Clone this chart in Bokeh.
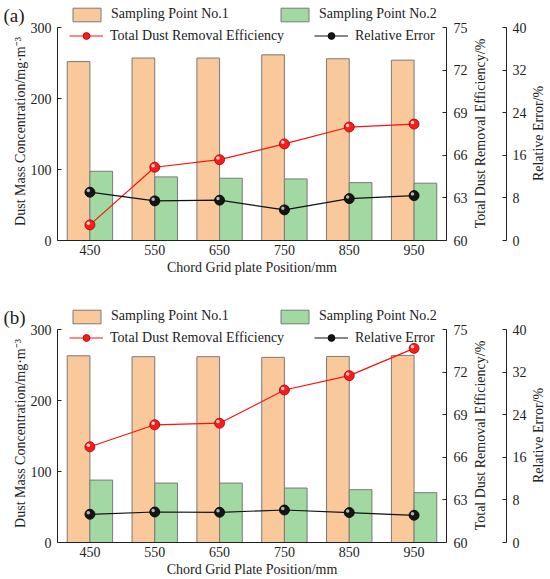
import math
from bokeh.plotting import figure
from bokeh.models import (Range1d, LinearAxis, FixedTicker, Legend, LegendItem,
                          Label, ColumnDataSource)
from bokeh.transform import dodge
from bokeh.layouts import column
from bokeh.embed import file_html
from bokeh.resources import INLINE

# ---------------- data ----------------
positions = ["450", "550", "650", "750", "850", "950"]

a_point1 = [252, 257, 257, 261.5, 256, 254]
a_point2 = [97.5, 89.6, 87.7, 86.7, 81.5, 80.7]
a_eff = [61.1, 65.16, 65.69, 66.8, 67.99, 68.2]
a_err = [9.07, 7.44, 7.57, 5.75, 7.87, 8.43]

b_point1 = [263, 261.7, 261.7, 260.8, 262, 263.5]
b_point2 = [87.9, 83.7, 83.7, 76.7, 74.4, 70.2]
b_eff = [66.74, 68.29, 68.4, 70.74, 71.75, 73.67]
b_err = [5.3, 5.73, 5.67, 6.1, 5.62, 5.11]

left_ticks = [0, 100, 200, 300]
eff_ticks = [60, 63, 66, 69, 72, 75]
err_ticks = [0, 8, 16, 24, 32, 40]

# ---------------- style / layout ----------------
FONT = "Liberation Serif"
TXT = "#222222"
ORANGE = "#F9C89B"
GREEN = "#A2D9A2"
EDGE = "#7a7a7a"
RED = "#ff1a1a"
RED_EDGE = "#a00000"
BLACK = "#151515"

W = 548                      # canvas width (the whole canvas is the frame)
PL, PR = 57, 446             # plot-area left/right (px)
PT, PB = 27, 240             # plot-area top/bottom (px from panel top)
ERR_X = 506                  # second right axis (px)
UNIT = (PR - PL) / len(positions)
HL = 1.6                     # marker highlight offset (px)


def y_range(lo, hi, H):
    s = (hi - lo) / (PB - PT)
    return Range1d(lo - (H - PB) * s, hi + PT * s)


def style_axis(ax, standoff):
    ax.major_label_text_font = FONT
    ax.major_label_text_font_size = "14px"
    ax.major_label_text_color = TXT
    ax.axis_line_color = TXT
    ax.major_tick_line_color = TXT
    ax.minor_tick_line_color = None
    ax.major_tick_in = 4
    ax.major_tick_out = 0
    ax.major_label_standoff = standoff


def text(p, H, x, y, s, size="14px", angle=0.0, align="center"):
    p.add_layout(Label(x=x, y=H - y, x_units="screen", y_units="screen",
                       text=s, text_font=FONT, text_font_size=size,
                       text_color=TXT, text_align=align,
                       text_baseline="middle", angle=angle))


def legend(p, H, label, renderers, x, y_top, gw=34, gh=17):
    p.add_layout(Legend(items=[LegendItem(label=label, renderers=renderers)],
                        location=(x, H - y_top - gh), orientation="horizontal",
                        glyph_width=gw, glyph_height=gh, label_standoff=7,
                        padding=0, margin=0, spacing=0,
                        border_line_color=None, background_fill_alpha=0,
                        label_text_font=FONT, label_text_font_size="14px",
                        label_text_color=TXT, label_height=gh), "center")


def make_panel(tag, p1, p2, eff, err, xlabel, H):
    idx = list(range(len(positions)))
    src = ColumnDataSource(dict(idx=idx, p1=p1, p2=p2, eff=eff, err=err))
    x0 = -0.5 - PL / UNIT
    x1 = len(positions) - 0.5 + (W - PR) / UNIT
    p = figure(x_range=Range1d(x0, x1), y_range=y_range(0, 300, H),
               frame_width=W, frame_height=H, output_backend="svg",
               toolbar_location=None, min_border=0)
    p.extra_y_ranges = {"eff": y_range(60, 75, H), "err": y_range(0, 40, H)}
    p.outline_line_color = None
    p.xgrid.grid_line_color = None
    p.ygrid.grid_line_color = None

    r1 = p.vbar(x=dodge("idx", -0.175), top="p1", width=0.35, source=src,
                fill_color=ORANGE, line_color=EDGE, line_width=1)
    r2 = p.vbar(x=dodge("idx", 0.175), top="p2", width=0.35, source=src,
                fill_color=GREEN, line_color=EDGE, line_width=1)
    l1 = p.line(x="idx", y="eff", source=src, y_range_name="eff",
                line_color="#ff1010", line_width=1.2)
    s1 = p.scatter(x="idx", y="eff", source=src, y_range_name="eff", size=10,
                   fill_color=RED, line_color=RED_EDGE, line_width=0.8)
    l2 = p.line(x="idx", y="err", source=src, y_range_name="err",
                line_color="#111111", line_width=1.2)
    s2 = p.scatter(x="idx", y="err", source=src, y_range_name="err", size=10,
                   fill_color=BLACK, line_color="#000000", line_width=0.8)

    # glossy highlights on the markers
    dx = -HL / UNIT
    p.scatter(x=dodge("idx", dx), y=dodge("eff", HL * 15 / (PB - PT)),
              source=src, y_range_name="eff", size=3.5, fill_color="white",
              fill_alpha=0.85, line_color=None)
    p.scatter(x=dodge("idx", dx), y=dodge("err", HL * 40 / (PB - PT)),
              source=src, y_range_name="err", size=3.5, fill_color="#c8c8c8",
              fill_alpha=0.9, line_color=None)

    # x axis along y = 0
    xa = p.xaxis[0]
    style_axis(xa, 4)
    xa.major_tick_in = 0
    xa.fixed_location = 0
    xa.bounds = (-0.5, len(positions) - 0.5)
    xa.ticker = FixedTicker(ticks=idx)
    xa.major_label_overrides = {i: s for i, s in zip(idx, positions)}

    # left axis at the left edge of the bars area
    ya = p.yaxis[0]
    style_axis(ya, 6)
    ya.fixed_location = -0.5
    ya.bounds = (0, 300)
    ya.ticker = FixedTicker(ticks=left_ticks)

    ax_eff = LinearAxis(y_range_name="eff", ticker=FixedTicker(ticks=eff_ticks),
                        fixed_location=len(positions) - 0.5, bounds=(60, 75))
    style_axis(ax_eff, 7)
    p.add_layout(ax_eff, "right")

    ax_err = LinearAxis(y_range_name="err", ticker=FixedTicker(ticks=err_ticks),
                        fixed_location=len(positions) - 0.5 + (ERR_X - PR) / UNIT,
                        bounds=(0, 40))
    style_axis(ax_err, 6)
    p.add_layout(ax_err, "right")

    # axis titles and panel tag
    text(p, H, 20, 131, "Dust Mass Concentration/mg\u00b7m\u207b\u00b3", angle=math.pi / 2)
    text(p, H, 480, 133, "Total Dust Removal Efficiency/%", angle=math.pi / 2)
    text(p, H, 538, 133, "Relative Error/%", angle=math.pi / 2)
    text(p, H, (PL + PR) / 2, 267, xlabel)
    text(p, H, 3, 15, tag, size="19px", align="left")

    # legends
    legend(p, H, "Sampling Point No.1", [r1], 69, 5.5, gw=35)
    legend(p, H, "Sampling Point No.2", [r2], 277, 5.5, gw=35)
    legend(p, H, "Total Dust Removal Efficiency", [l1, s1], 69, 27)
    legend(p, H, "Relative Error", [l2, s2], 314, 27)
    return p


pa = make_panel("(a)", a_point1, a_point2, a_eff, a_err,
                "Chord Grid plate Position/mm", 302)
pb = make_panel("(b)", b_point1, b_point2, b_eff, b_err,
                "Chord Grid Plate Position/mm", 276)

layout = column(pa, pb, spacing=0)
open("out.html", "w").write(file_html(layout, INLINE))
